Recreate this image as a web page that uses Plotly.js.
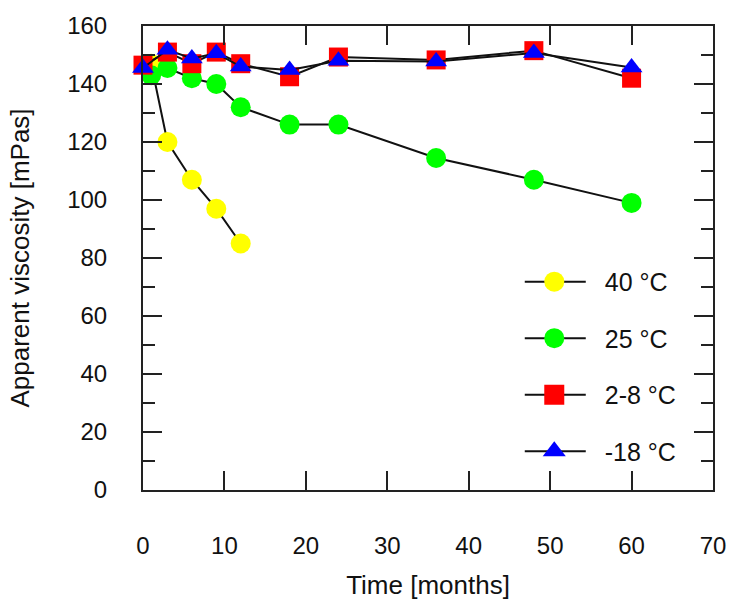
<!DOCTYPE html>
<html>
<head>
<meta charset="utf-8">
<script src="https://cdn.plot.ly/plotly-3.0.1.min.js"></script>
<style>html,body{margin:0;padding:0;background:#fff;}#chart{width:730px;height:600px;}</style>
</head>
<body>
<div id="chart"></div>
<script>
// Data
var seriesNames = ["40 °C", "25 °C", "2-8 °C", "-18 °C"];
var x40 = [1, 3, 6, 9, 12];
var y40 = [147, 120, 107, 97, 85];
var x25 = [1, 3, 6, 9, 12, 18, 24, 36, 48, 60];
var y25 = [143, 145.5, 142, 140, 132, 126, 126, 114.5, 107, 99];
var x28 = [0, 3, 6, 9, 12, 18, 24, 36, 48, 60];
var y28 = [146.5, 151, 147, 151, 147, 142.5, 149.3, 148.3, 151.5, 142];
var xm18 = [0, 3, 6, 9, 12, 18, 24, 36, 48, 60];
var ym18 = [145.5, 151.8, 148.8, 150.6, 146, 144.8, 148, 147.8, 150.7, 145.7];
var xTicks = [0, 10, 20, 30, 40, 50, 60, 70];
var yTicks = [0, 20, 40, 60, 80, 100, 120, 140, 160];

var FONT = "Liberation Sans, Arial, sans-serif";
function tr(x, y, name, color, symbol, size, lg) {
  return {
    x: x, y: y, name: name, type: "scatter", mode: "lines+markers",
    line: {color: "#111", width: 2},
    marker: {color: color, symbol: symbol, size: size, line: {width: 0}},
    cliponaxis: false, legendgroup: lg
  };
}
var data = [
  tr(x40, y40, seriesNames[0], "#ffff00", "circle", 20, "a"),
  tr(x25, y25, seriesNames[1], "#00ff00", "circle", 20, "b"),
  tr(x28, y28, seriesNames[2], "#ff0000", "square", 19, "c"),
  tr(xm18, ym18, seriesNames[3], "#0000ff", "triangle-up", 19, "d")
];
var layout = {
  width: 730, height: 600,
  margin: {l: 143, r: 17, t: 26, b: 110},
  paper_bgcolor: "#fff", plot_bgcolor: "#fff",
  font: {family: FONT, color: "#111", size: 24},
  showlegend: true,
  legend: {
    x: 0.661, y: 0.498, xanchor: "left", yanchor: "top",
    bgcolor: "rgba(0,0,0,0)", borderwidth: 0,
    font: {family: FONT, size: 25, color: "#111"},
    itemwidth: 75, tracegroupgap: 21, traceorder: "grouped"
  },
  xaxis: {
    range: [0, 70], tickvals: xTicks, ticktext: xTicks.map(String),
    ticks: "inside", ticklen: 19, tickwidth: 2, tickcolor: "#222",
    showline: true, linewidth: 2, linecolor: "#222", mirror: "ticks",
    showgrid: false, zeroline: false,
    ticklabelstandoff: 33,
    tickfont: {family: FONT, size: 24, color: "#111"},
    title: {text: "Time [months]", font: {family: FONT, size: 26, color: "#111"}, standoff: 23},
    automargin: false
  },
  yaxis: {
    range: [0, 160], tickvals: yTicks, ticktext: yTicks.map(String),
    ticks: "inside", ticklen: 19, tickwidth: 2, tickcolor: "#222",
    minor: {dtick: 10, ticks: "inside", ticklen: 12, tickwidth: 2, tickcolor: "#222", showgrid: false},
    showline: true, linewidth: 2, linecolor: "#222", mirror: "ticks",
    showgrid: false, zeroline: false,
    ticklabelstandoff: 29,
    tickfont: {family: FONT, size: 24, color: "#111"},
    title: {text: "Apparent viscosity [mPas]", font: {family: FONT, size: 26, color: "#111"}, standoff: 30},
    automargin: false
  }
};
Plotly.newPlot("chart", data, layout, {displayModeBar: false, staticPlot: true}).then(function (gd) {
  // lengthen legend sample lines and enlarge legend symbols to match the reference legend
  var items = gd.querySelectorAll(".legend .traces");
  items.forEach(function (g) {
    g.querySelectorAll(".legendlines").forEach(function (lg) { lg.removeAttribute("transform"); });
    g.querySelectorAll(".legendlines path").forEach(function (p) {
      p.removeAttribute("transform");
      p.setAttribute("d", "M5,0h61");
    });
    g.querySelectorAll(".legendpoints").forEach(function (lg) { lg.removeAttribute("transform"); });
    g.querySelectorAll(".legendpoints path.scatterpts").forEach(function (p) {
      p.setAttribute("transform", "translate(34.5,0) scale(1.25)");
    });
  });
});
</script>
</body>
</html>
